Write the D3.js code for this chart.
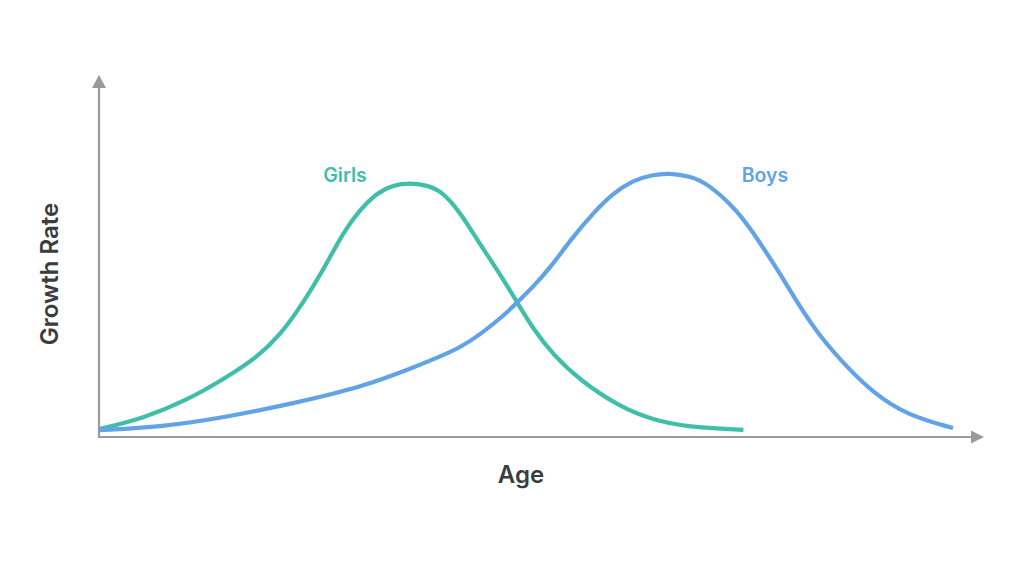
<!DOCTYPE html>
<html>
<head>
<meta charset="utf-8">
<script src="https://cdn.jsdelivr.net/npm/d3@7"></script>
<style>
  html, body { margin: 0; padding: 0; background: #ffffff; }
  svg { display: block; }
</style>
</head>
<body>
<svg id="chart" width="1024" height="576"></svg>
<script>
// ---- data ----
const girlsAge  = [0, 5, 10, 14, 18, 20.5, 22.4, 24.2, 26.1, 27.6, 29.5, 31.4, 33.3, 35.2, 37, 38.6, 40.8, 43.1, 45.4, 47.3, 49.1, 51.4, 54.4, 58.9, 62.7, 66.5, 72.9];
const girlsRate = [3, 7, 14, 21.7, 30.4, 38.8, 47.5, 56.8, 67.8, 77.3, 86, 92.4, 95.5, 96.2, 95.4, 93.6, 85.5, 73, 61.6, 51, 41, 31, 21.5, 11.4, 6.4, 3.8, 2.7];
const boysAge   = [0, 7.1, 14.6, 22.2, 29.8, 36.3, 38.6, 40.8, 43.1, 45.4, 47.3, 49.1, 51, 53.6, 55.9, 58.1, 60.4, 62.5, 64.6, 66.8, 68.8, 72.2, 74.8, 77, 79.3, 81.6, 84.6, 87.6, 91.4, 96.6];
const boysRate  = [2.6, 3.8, 7.6, 12.9, 18.9, 27.3, 30.5, 33.8, 38.8, 44.9, 50.9, 56.9, 63.9, 75.8, 84.8, 92.2, 97.2, 99.3, 100, 98.8, 96.2, 86, 73.5, 62.1, 49.2, 37.9, 26.5, 16.7, 8.3, 3.4];
const seriesNames = ["Girls", "Boys"];
const xTitle = "Age";
const yTitle = "Growth Rate";

const svg = d3.select("#chart");
const colors = { Girls: "#3fbfa8", Boys: "#61a3e6" };
const axisColor = "#9a9a9a";

const x = d3.scaleLinear().domain([0, 100]).range([99, 983]);
const y = d3.scaleLinear().domain([0, 100]).range([437, 173]);

// axes
svg.append("line").attr("x1", x(0)).attr("x2", 972).attr("y1", y(0)).attr("y2", y(0))
  .attr("stroke", axisColor).attr("stroke-width", 2.2);
svg.append("line").attr("x1", x(0)).attr("x2", x(0)).attr("y1", y(0) + 1).attr("y2", 87)
  .attr("stroke", axisColor).attr("stroke-width", 2.2);
svg.append("path").attr("d", `M${x(0)},75 L${x(0) - 7},88 L${x(0) + 7},88 Z`).attr("fill", axisColor);
svg.append("path").attr("d", `M984,${y(0)} L971,${y(0) - 6.5} L971,${y(0) + 6.5} Z`).attr("fill", axisColor);

const line = d3.line().x(d => x(d[0])).y(d => y(d[1])).curve(d3.curveBasis);

const data = {
  Girls: girlsAge.map((a, i) => [a, girlsRate[i]]),
  Boys: boysAge.map((a, i) => [a, boysRate[i]])
};

seriesNames.forEach(name => {
  svg.append("path").datum(data[name]).attr("d", line)
    .attr("fill", "none").attr("stroke", colors[name]).attr("stroke-width", 4.2)
    .attr("stroke-linecap", "butt");
});

const font = "Inter, 'Open Sans', sans-serif";
svg.append("text").attr("x", 345).attr("y", 182).attr("text-anchor", "middle")
  .attr("font-family", font).attr("font-weight", 600).attr("font-size", 19.5)
  .attr("fill", colors.Girls).text(seriesNames[0]);
svg.append("text").attr("x", 765).attr("y", 182).attr("text-anchor", "middle")
  .attr("font-family", font).attr("font-weight", 600).attr("font-size", 19.5)
  .attr("fill", colors.Boys).text(seriesNames[1]);

svg.append("text").attr("x", 521).attr("y", 483).attr("text-anchor", "middle")
  .attr("font-family", font).attr("font-weight", 600).attr("font-size", 24)
  .attr("fill", "#3a3c40").text(xTitle);
svg.append("text").attr("transform", "translate(58,274) rotate(-90)").attr("text-anchor", "middle")
  .attr("font-family", font).attr("font-weight", 600).attr("font-size", 24)
  .attr("fill", "#3a3c40").text(yTitle);
</script>
</body>
</html>
